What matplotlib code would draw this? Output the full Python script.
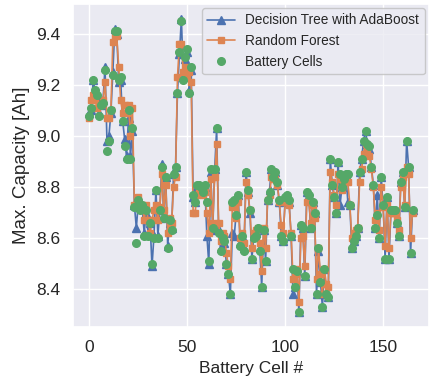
import matplotlib
matplotlib.use("Agg")
import matplotlib.pyplot as plt
import seaborn as sns
import numpy as np

# measured capacity of each cell (green dots)
actual = [9.08, 9.11, 9.22, 9.18, 9.16, 9.08, 9.12, 9.13, 9.26, 8.94,
          8.98, 9.10, 9.24, 9.41, 9.41, 9.22, 9.23, 9.06, 8.96, 8.91,
          9.10, 8.91, 9.03, 8.72, 8.58, 8.75, 8.71, 8.73, 8.61, 8.71,
          8.61, 8.66, 8.50, 8.60, 8.79, 8.60, 8.71, 8.88, 8.68, 8.84,
          8.56, 8.67, 8.63, 8.85, 8.88, 9.17, 9.33, 9.45, 9.22, 9.31,
          9.34, 9.17, 9.27, 8.77, 8.74, 8.81, 8.81, 8.80, 8.78, 8.81,
          8.74, 8.51, 8.87, 8.64, 8.87, 9.03, 8.62, 8.55, 8.60, 8.59,
          8.50, 8.46, 8.38, 8.74, 8.75, 8.69, 8.77, 8.57, 8.61, 8.55,
          8.86, 8.79, 8.71, 8.52, 8.60, 8.61, 8.64, 8.55, 8.41, 8.63,
          8.51, 8.75, 8.78, 8.87, 8.84, 8.86, 8.82, 8.75, 8.61, 8.59,
          8.76, 8.77, 8.75, 8.61, 8.48, 8.41, 8.47, 8.31, 8.65, 8.64,
          8.45, 8.78, 8.77, 8.64, 8.74, 8.70, 8.38, 8.56, 8.43, 8.33,
          8.48, 8.38, 8.37, 8.91, 8.81, 8.76, 8.70, 8.90, 8.85, 8.80,
          8.83, 8.85, 8.85, 8.73, 8.56, 8.59, 8.61, 8.64, 8.86, 8.91,
          8.98, 9.02, 8.97, 8.96, 8.88, 8.81, 8.64, 8.69, 8.60, 8.84,
          8.73, 8.52, 8.76, 8.52, 8.71, 8.71, 8.71, 8.66, 8.61, 8.82,
          8.86, 8.72, 8.98, 8.88, 8.54, 8.71]

# AdaBoost predictions
ada = [9.09, 9.10, 9.22, 9.17, 9.15, 9.09, 9.12, 9.14, 9.27, 8.98,
       9.00, 9.09, 9.25, 9.42, 9.40, 9.21, 9.22, 9.06, 8.99, 8.92,
       9.07, 8.92, 9.02, 8.73, 8.64, 8.74, 8.72, 8.72, 8.62, 8.70,
       8.62, 8.66, 8.49, 8.61, 8.79, 8.61, 8.71, 8.89, 8.68, 8.84,
       8.57, 8.66, 8.64, 8.85, 8.88, 9.17, 9.32, 9.46, 9.23, 9.30,
       9.33, 9.18, 9.26, 8.76, 8.74, 8.80, 8.81, 8.80, 8.79, 8.80,
       8.61, 8.50, 8.86, 8.63, 8.87, 9.03, 8.63, 8.56, 8.61, 8.58,
       8.50, 8.46, 8.38, 8.62, 8.61, 8.70, 8.77, 8.58, 8.61, 8.56,
       8.86, 8.78, 8.70, 8.52, 8.61, 8.62, 8.64, 8.56, 8.41, 8.63,
       8.51, 8.75, 8.79, 8.87, 8.85, 8.86, 8.81, 8.74, 8.61, 8.59,
       8.76, 8.77, 8.74, 8.61, 8.38, 8.41, 8.47, 8.31, 8.65, 8.64,
       8.45, 8.78, 8.77, 8.64, 8.74, 8.70, 8.38, 8.55, 8.43, 8.33,
       8.48, 8.38, 8.37, 8.91, 8.81, 8.76, 8.70, 8.90, 8.73, 8.80,
       8.83, 8.85, 8.74, 8.73, 8.56, 8.59, 8.61, 8.64, 8.86, 8.91,
       8.98, 9.02, 8.97, 8.95, 8.88, 8.81, 8.64, 8.77, 8.60, 8.84,
       8.73, 8.52, 8.76, 8.52, 8.71, 8.71, 8.71, 8.66, 8.61, 8.82,
       8.86, 8.72, 8.98, 8.88, 8.54, 8.71]

# Random forest predictions
rf = [9.07, 9.14, 9.16, 9.14, 9.11, 9.12, 9.12, 9.14, 9.21, 9.07,
      9.07, 9.10, 9.37, 9.39, 9.39, 9.27, 9.14, 9.09, 9.12, 9.09,
      9.12, 9.00, 9.11, 8.73, 8.73, 8.76, 8.73, 8.73, 8.67, 8.73,
      8.67, 8.62, 8.67, 8.71, 8.73, 8.67, 8.72, 8.85, 8.71, 8.81,
      8.62, 8.68, 8.66, 8.80, 8.84, 9.23, 9.36, 9.36, 9.25, 9.27,
      9.24, 9.25, 9.21, 8.70, 8.70, 8.77, 8.78, 8.78, 8.77, 8.78,
      8.70, 8.62, 8.83, 8.66, 8.84, 8.97, 8.66, 8.59, 8.62, 8.61,
      8.54, 8.49, 8.44, 8.72, 8.72, 8.68, 8.74, 8.60, 8.62, 8.58,
      8.82, 8.77, 8.71, 8.56, 8.62, 8.63, 8.64, 8.58, 8.47, 8.64,
      8.56, 8.75, 8.77, 8.84, 8.83, 8.83, 8.81, 8.74, 8.65, 8.62,
      8.74, 8.75, 8.73, 8.62, 8.44, 8.46, 8.48, 8.35, 8.60, 8.61,
      8.49, 8.74, 8.75, 8.66, 8.73, 8.68, 8.44, 8.56, 8.46, 8.38,
      8.48, 8.42, 8.41, 8.86, 8.82, 8.77, 8.73, 8.85, 8.83, 8.79,
      8.82, 8.83, 8.82, 8.73, 8.60, 8.62, 8.63, 8.64, 8.82, 8.87,
      8.93, 8.97, 8.94, 8.92, 8.87, 8.80, 8.67, 8.70, 8.63, 8.80,
      8.72, 8.57, 8.73, 8.56, 8.70, 8.70, 8.70, 8.67, 8.63, 8.80,
      8.84, 8.73, 8.88, 8.85, 8.60, 8.70]

cells = np.arange(len(actual))

sns.set_theme(style="darkgrid")
plt.rcParams['font.family'] = ['Liberation Sans', 'DejaVu Sans']

fig, ax = plt.subplots(figsize=(4.33, 3.85), dpi=100)
fig.subplots_adjust(left=0.169, right=0.99, top=0.99, bottom=0.151)

ax.plot(cells, ada, marker='^', color='#4C72B0', lw=1.2, ms=5.5,
        label='Decision Tree with AdaBoost')
ax.plot(cells, rf, marker='s', color='#DD8452', lw=1.2, ms=5,
        label='Random Forest')
ax.plot(cells, actual, 'o', color='#55A868', ms=5.5, label='Battery Cells')

ax.set_xlabel('Battery Cell #', fontsize=12.5)
ax.set_ylabel('Max. Capacity [Ah]', fontsize=13.5)
ax.set_xticks([0, 50, 100, 150])
ax.set_yticks([8.4, 8.6, 8.8, 9.0, 9.2, 9.4])
ax.tick_params(labelsize=12.5)
leg = ax.legend(loc='upper right', fontsize=9.8, borderaxespad=0.3)
leg.get_frame().set_edgecolor('0.75')

plt.savefig("out.png")
